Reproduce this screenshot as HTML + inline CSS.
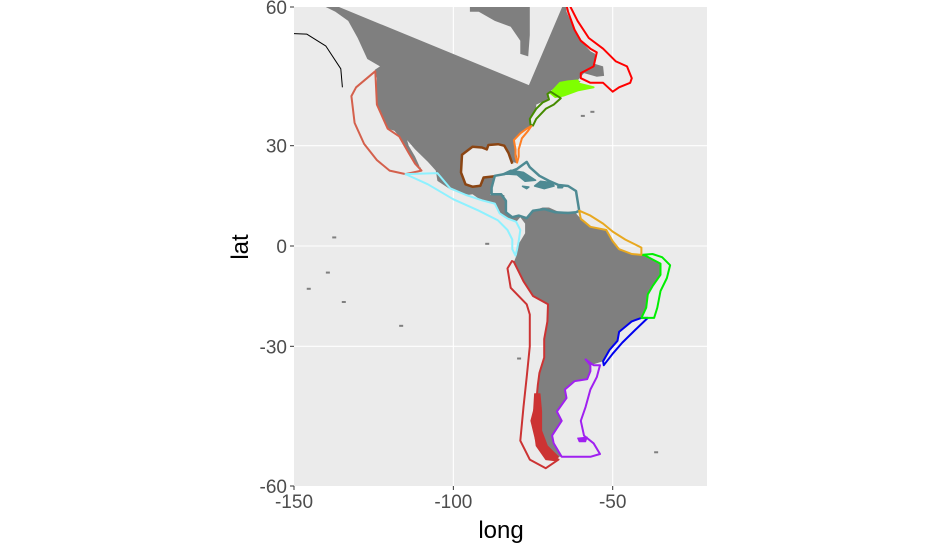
<!DOCTYPE html>
<html><head><meta charset="utf-8"><style>
body{margin:0;background:#fff;}
svg{display:block;font-family:"Liberation Sans",sans-serif;}
</style></head><body>
<svg id="map" width="935" height="550">
<defs><clipPath id="clip"><rect x="294" y="7" width="413" height="479"/></clipPath></defs>
<rect x="294" y="7" width="413" height="479" fill="#EBEBEB"/>
<g id="grid"></g>
<g id="layers" clip-path="url(#clip)"></g>
<g id="axes"></g>
<text x="501" y="538" font-size="24" text-anchor="middle" fill="#000">long</text>
<text transform="translate(248,247) rotate(-90)" font-size="24" text-anchor="middle" fill="#000">lat</text>
</svg>
<script>
const xTicks=[-150,-100,-50];
const yTicks=[60,30,0,-30,-60];
const xGrid=[-100,-50];
const yGrid=[30,0,-30];
const land=[[-141,61],[-135.6,59.7],[-76.3,45],[-64.8,61],[-64.5,59],[-62,56],[-60,54],[-57,52],[-55.5,51.5],[-55.6,49.5],[-53,49],[-52.7,47],[-55,46.8],[-59,47.6],[-61,46],[-60,45.8],[-63,44.8],[-66,43.8],[-67,44.8],[-70,43.5],[-70.5,42],[-70,41.7],[-72,41.2],[-74,40.5],[-74,39.5],[-75,38.5],[-76,37],[-75.5,35.2],[-77,34.5],[-79,33.3],[-81,31.5],[-80.5,29],[-80,27],[-80.3,25.2],[-81.5,25.5],[-82.7,28],[-84,30],[-86,30.4],[-89,30.2],[-89.5,29],[-91,29.5],[-94,29.7],[-97.3,27.5],[-97.5,22.5],[-96,19],[-94,18.2],[-91,18.8],[-90.5,21],[-87,21.5],[-87.5,18.5],[-88.5,15.8],[-84,15.8],[-83.5,11],[-81.5,9],[-79,9.5],[-77,8.5],[-75.5,10.8],[-72,12],[-70,12],[-67,10.7],[-62,10.7],[-60,8.5],[-57,6],[-52,5],[-50,1.5],[-48,-1],[-44,-2.5],[-40,-2.9],[-35,-5.5],[-35,-9],[-37.5,-12.5],[-39,-15],[-39.5,-19],[-41,-22],[-44,-23],[-48,-26],[-48.5,-28.5],[-51,-31],[-53,-34],[-57,-35],[-57,-36.5],[-58,-38.5],[-62,-39],[-65,-41],[-64.5,-43],[-67.5,-46],[-66,-48],[-69,-51],[-68.5,-52.5],[-66,-55],[-70,-55],[-74,-52],[-75.5,-48],[-74,-44],[-73.5,-40],[-73,-37],[-71.5,-33],[-71.5,-28],[-70.5,-23],[-70.3,-18],[-75,-15.5],[-78,-11],[-80,-7],[-81,-5],[-80,-2.5],[-80,0],[-79,1.5],[-77.5,4],[-77.5,7],[-79,9],[-80.3,7.5],[-83,8.5],[-85.5,10],[-87,13],[-91,14],[-94,16],[-96,15.7],[-101,17.5],[-105,20],[-105.5,23],[-108,25.5],[-112,29],[-114.5,31.5],[-114,30],[-112,27],[-110,23],[-110.3,24],[-112,24.7],[-114,28],[-115,30],[-117,32.5],[-118.5,34],[-120.6,34.5],[-122.5,37.5],[-124,40.5],[-124.3,43],[-124,46.5],[-124.6,48.3],[-123,49],[-127,50.5],[-130,54.5],[-133,57.5],[-137,59],[-141,60]];
const hudson=[[-94.8,61],[-76,61],[-76,55],[-76.5,51],[-79,51.5],[-79,54],[-82,56.5],[-87,57.5],[-92,59],[-94.8,59]];
const cuba=[[-85,21.8],[-82,23.1],[-78,22.5],[-74.2,20.2],[-77.5,19.9],[-80,21.8],[-83,22]];
const hispaniola=[[-74.5,18.5],[-72.7,19.9],[-69,19.5],[-68.4,18.5],[-71.5,17.7]];
const jamaica=[[-78.3,18.4],[-76.3,18.2],[-77,17.7]];
const puertoRico=[[-67.2,18.5],[-65.6,18.3],[-65.8,18],[-67.2,18]];
const falklands=[[-61,-51.5],[-58,-51.3],[-58.5,-52.2],[-60.5,-52.2]];
const chileFjords=[[-74.5,-42],[-72.8,-42],[-72.3,-46],[-72.3,-50],[-70.5,-53],[-67,-55],[-68,-55.7],[-71,-55.5],[-74,-53],[-75,-48]];
const regNewfoundland=[[-64.5,61],[-61,57.5],[-57.5,54.5],[-53,52.5],[-49,50],[-45.5,49],[-44,46.5],[-44.5,45.5],[-48,44.5],[-50,43.5],[-53,45.5],[-57,45.5],[-60,46.5],[-60,47.6],[-56,49],[-55,51.8],[-57,52.5],[-60,54],[-62,56],[-64,59],[-65,61]];
const regScotian=[[-66.5,45.5],[-64,45.8],[-61,46],[-60.5,45.3],[-56,44.5],[-61,43.8],[-65.5,42.6],[-68,42.3],[-69.5,43.2]];
const regNEShelf=[[-69.5,43.5],[-66.3,42],[-68.5,40.5],[-71,39.5],[-74,37],[-75,35.3],[-75.8,35.5],[-76,37],[-74,39.5],[-72,41],[-70,41.7],[-70.5,43]];
const regSEShelf=[[-75.5,35.2],[-76.5,34],[-78.5,32],[-79.5,29],[-79.5,27],[-80,25.3],[-80.5,27],[-80.5,29],[-81,31.5],[-79,33.3],[-77,34.5]];
const regGulf=[[-81.5,25],[-82.7,28],[-84,30],[-86,30.4],[-89,30.2],[-89.5,29],[-91,29.5],[-94,29.7],[-97.3,27.5],[-97.6,22.5],[-96.2,19],[-94,18.3],[-91.5,18.6],[-90.5,21],[-87,21.4]];
const regCaribbean=[[-87,21.5],[-84,22],[-80,23.5],[-77,25.5],[-76,24],[-73,21.5],[-70,20],[-67,18.8],[-64,18.5],[-61.5,17],[-61,14],[-60.5,11],[-61.5,10.5],[-64,10.3],[-68,10.5],[-71.5,11.5],[-75,11],[-77,8.7],[-79.5,9.5],[-81.5,9],[-83.5,10.5],[-83.5,14],[-85,16],[-88,16],[-88,18],[-87,21.5]];
const regCalifornia=[[-124.5,48],[-130.5,44.5],[-132,42.5],[-131,36],[-128,30.5],[-124,26],[-120,23],[-115,22],[-110,23],[-112,25],[-114,28],[-117,32.5],[-120.6,34.5],[-124,40.5],[-124.5,48]];
const regPacificCentral=[[-115,22],[-105,22.3],[-101,17.8],[-96,15.8],[-91,14.2],[-87,13.2],[-85.5,10.2],[-83,8.6],[-80.3,7.6],[-79,5],[-79.5,1.5],[-80,-1],[-80.5,-3],[-81.5,-1],[-81.5,2],[-83,5],[-86,8],[-92,11],[-100,14.5],[-108,19]];
const regHumboldt=[[-81.6,-4.7],[-83,-7],[-82,-13],[-77,-18],[-76,-21],[-76,-30],[-77,-38],[-78,-45],[-79,-52],[-76,-55.5],[-71,-57],[-67,-55.5],[-70,-55],[-74,-52],[-75.5,-48],[-74,-44],[-73.5,-40],[-73,-37],[-71.5,-33],[-71.5,-28],[-70.5,-23],[-70.3,-18],[-75,-15.5],[-78,-11],[-80,-7],[-81,-5]];
const regPatagonia=[[-58.5,-33.5],[-56,-35],[-54,-35],[-55,-38],[-57,-41],[-58.5,-45],[-60,-48],[-59,-51],[-56,-52.5],[-54,-54.5],[-57,-55],[-64,-55],[-66,-55],[-68.5,-52.5],[-69,-51],[-66,-48],[-67.5,-46],[-64.5,-43],[-65,-41],[-62,-39],[-58,-38.5],[-57,-36.5],[-57,-35]];
const regSouthBrazil=[[-41,-22],[-39,-22],[-43,-25.5],[-47,-29],[-50,-32],[-52.8,-35],[-53,-34],[-51,-31],[-48.5,-28.5],[-48,-26],[-44,-23]];
const regEastBrazil=[[-41,-2.8],[-37.5,-2.5],[-34.5,-3.5],[-32,-6],[-33,-10],[-35,-14],[-36,-19],[-37,-22],[-39,-22],[-41,-22],[-39.5,-19],[-39,-15],[-37.5,-12.5],[-35,-9],[-35,-5.5],[-40,-2.9]];
const regNorthBrazil=[[-60,8.5],[-60.5,11],[-57,9.5],[-53,7],[-50,4.5],[-46,2],[-43,0.5],[-41,-0.5],[-41,-2.8],[-44,-2.5],[-48,-1],[-50,1.5],[-52,5],[-57,6]];
const alaskaLine=[[-150,55.3],[-146,55.2],[-140,53],[-135.3,48.5],[-134.8,44.5]];
const islets=[[-138,3],[-140,-8],[-146,-13],[-135,-17],[-117,-24],[-80,-33],[-37,-54],[-90,1],[-60,38],[-57,39]];

const X=lon=>294+(lon+150)*3.187;
const Y=lat=>246-182.6*Math.log(Math.tan(Math.PI/4+lat*Math.PI/360));
const NS='http://www.w3.org/2000/svg';
const pts=a=>a.map(p=>X(p[0]).toFixed(1)+','+Y(p[1]).toFixed(1)).join(' ');
const layers=document.getElementById('layers');
function poly(arr,fill,stroke,sw,name,closed){
  const e=document.createElementNS(NS,closed===false?'polyline':'polygon');
  e.setAttribute('points',pts(arr));
  e.setAttribute('fill',fill);
  e.setAttribute('stroke',stroke);
  e.setAttribute('stroke-width',sw);
  e.setAttribute('stroke-linejoin','round');
  
  
  layers.appendChild(e);
}
poly(land,'#7F7F7F','none',0,'land-americas');
poly(hudson,'#7F7F7F','none',0,'land-quebec');
poly(alaskaLine,'none','#000',1,'alaska-outline',false);
islets.forEach(p=>{
  const r=document.createElementNS(NS,'rect');
  r.setAttribute('x',X(p[0]));r.setAttribute('y',Y(p[1]));
  r.setAttribute('width',4);r.setAttribute('height',2);r.setAttribute('fill','#7F7F7F');
  
  
  layers.appendChild(r);
});
poly(regNewfoundland,'none','#FF0000',2,'region-newfoundland-labrador',false);
poly(regScotian,'#7FFF00','#7FFF00',2,'region-scotian-shelf');
poly(regNEShelf,'none','#458B00',2,'region-northeast-shelf');
poly(regSEShelf,'none','#FF7F24',2,'region-southeast-shelf');
poly(regGulf,'none','#8B4513',2.5,'region-gulf-of-mexico',false);
poly(regCaribbean,'none','#4E8A93',2.5,'region-caribbean');
[cuba,hispaniola,jamaica,puertoRico].forEach(a=>poly(a,'#4E8A93','#4E8A93',1.5,'caribbean-island'));
poly(regCalifornia,'none','#D4604C',2,'region-california-current');
poly(regPacificCentral,'none','#8EF1FF',2,'region-pacific-central-american');
poly(regHumboldt,'none','#CC3333',2,'region-humboldt-current');
poly(chileFjords,'#CC3333','#CC3333',1,'chile-fjords');
poly(regPatagonia,'none','#A020F0',2,'region-patagonian-shelf');
poly(falklands,'#A020F0','#A020F0',1,'falkland-islands');
poly(regSouthBrazil,'none','#0000EE',2,'region-south-brazil-shelf');
poly(regEastBrazil,'none','#00EE00',2,'region-east-brazil-shelf');
poly(regNorthBrazil,'none','#E8A820',2,'region-north-brazil-shelf');

const grid=document.getElementById('grid');
xGrid.forEach(v=>{
  const l=document.createElementNS(NS,'line');
  l.setAttribute('x1',X(v));l.setAttribute('x2',X(v));l.setAttribute('y1',7);l.setAttribute('y2',486);
  l.setAttribute('stroke','#fff');l.setAttribute('stroke-width',1.1);
  
  
  grid.appendChild(l);
});
yGrid.forEach(v=>{
  const l=document.createElementNS(NS,'line');
  l.setAttribute('x1',294);l.setAttribute('x2',707);l.setAttribute('y1',Y(v));l.setAttribute('y2',Y(v));
  l.setAttribute('stroke','#fff');l.setAttribute('stroke-width',1.1);
  
  
  grid.appendChild(l);
});
const axes=document.getElementById('axes');
xTicks.forEach(v=>{
  const x=X(v);
  const l=document.createElementNS(NS,'line');
  l.setAttribute('x1',x);l.setAttribute('x2',x);l.setAttribute('y1',486);l.setAttribute('y2',490);
  l.setAttribute('stroke','#333');
  
  
  axes.appendChild(l);
  const t=document.createElementNS(NS,'text');
  t.setAttribute('x',x);t.setAttribute('y',508);t.setAttribute('text-anchor','middle');
  t.setAttribute('font-size','19');t.setAttribute('fill','#4D4D4D');
  t.textContent=v;
  
  
  axes.appendChild(t);
});
yTicks.forEach(v=>{
  const y=Math.min(486,Math.max(7,Y(v)));
  const l=document.createElementNS(NS,'line');
  l.setAttribute('x1',290);l.setAttribute('x2',294);l.setAttribute('y1',y);l.setAttribute('y2',y);
  l.setAttribute('stroke','#333');
  
  
  axes.appendChild(l);
  const t=document.createElementNS(NS,'text');
  t.setAttribute('x',287);t.setAttribute('y',y+7);t.setAttribute('text-anchor','end');
  t.setAttribute('font-size','19');t.setAttribute('fill','#4D4D4D');
  t.textContent=v;
  
  
  axes.appendChild(t);
});
</script>
</body></html>
